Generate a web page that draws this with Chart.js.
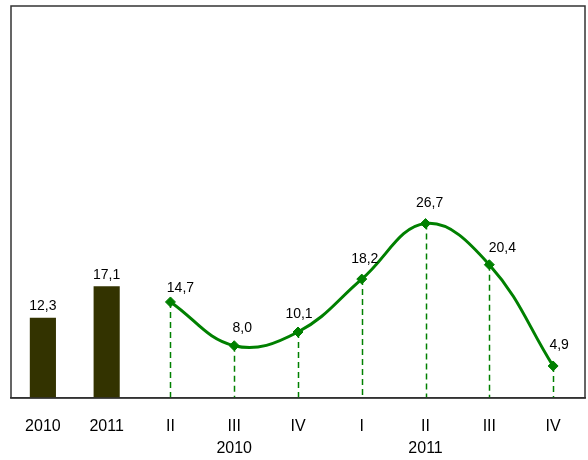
<!DOCTYPE html>
<html lang="pt-br">
<head>
<meta charset="UTF-8">
<title>Grafico</title>
<script src="https://cdn.jsdelivr.net/npm/chart.js"></script>
<style>
  html, body { margin: 0; padding: 0; background: #fff; overflow: hidden; }
  #box { width: 588px; height: 460px; }
</style>
</head>
<body>
<div id="box"><canvas id="myChart"></canvas></div>
<script>
// categorias do eixo x (segunda linha = ano dos trimestres)
const categorias = ['2010', '2011', 'II', ['III', '2010'], 'IV', 'I', ['II', '2011'], 'III', 'IV'];

// valores anuais (barras) e trimestrais (linha)
const valoresAnuais = [12.3, 17.1, null, null, null, null, null, null, null];
const valoresTrimestrais = [null, null, 14.7, 8.0, 10.1, 18.2, 26.7, 20.4, 4.9];

// deslocamento dos rótulos da linha (px), só estilo
const desvioX = [0, 0, 10, 8, 1, 3, 4, 13, 6];
const desvioY = [0, 0, -14, -18, -18, -20, -20, -17, -21];

const verde = '#008000';

function fmt(v) {
    return v.toFixed(1).replace('.', ',');
}

// moldura em volta da área do gráfico
const moldura = {
    id: 'moldura',
    afterDraw(chart) {
        const a = chart.chartArea;
        const ctx = chart.ctx;
        ctx.save();
        ctx.strokeStyle = '#333333';
        ctx.lineWidth = 1.5;
        ctx.strokeRect(a.left, a.top, a.right - a.left, a.bottom - a.top);
        ctx.restore();
    }
};

// linhas tracejadas dos pontos até a base
const linhasGuia = {
    id: 'linhasGuia',
    beforeDatasetsDraw(chart) {
        const ctx = chart.ctx;
        const base = chart.scales.y.getPixelForValue(0);
        const meta = chart.getDatasetMeta(1);
        ctx.save();
        ctx.strokeStyle = verde;
        ctx.lineWidth = 1.5;
        ctx.setLineDash([6, 4]);
        meta.data.forEach(function (p, i) {
            if (valoresTrimestrais[i] == null) return;
            ctx.beginPath();
            ctx.moveTo(Math.round(p.x) + 0.5, p.y);
            ctx.lineTo(Math.round(p.x) + 0.5, base);
            ctx.stroke();
        });
        ctx.restore();
    }
};

// rótulos com os valores
const rotulos = {
    id: 'rotulos',
    afterDatasetsDraw(chart) {
        const ctx = chart.ctx;
        ctx.save();
        ctx.fillStyle = '#000';
        ctx.font = '14px "Liberation Sans", Arial, sans-serif';
        ctx.textAlign = 'center';
        ctx.textBaseline = 'middle';
        chart.getDatasetMeta(0).data.forEach(function (b, i) {
            if (valoresAnuais[i] == null) return;
            ctx.fillText(fmt(valoresAnuais[i]), b.x, b.y - 11);
        });
        chart.getDatasetMeta(1).data.forEach(function (p, i) {
            if (valoresTrimestrais[i] == null) return;
            ctx.fillText(fmt(valoresTrimestrais[i]), p.x + desvioX[i], p.y + desvioY[i]);
        });
        ctx.restore();
    }
};

const config = {
    type: 'bar',
    data: {
        labels: categorias,
        datasets: [{
            type: 'bar',
            label: 'Anual',
            data: valoresAnuais,
            backgroundColor: '#333300',
            categoryPercentage: 1,
            barPercentage: 0.41,
            order: 2
        }, {
            type: 'line',
            label: 'Trimestral',
            data: valoresTrimestrais,
            borderColor: verde,
            borderWidth: 3,
            backgroundColor: verde,
            pointStyle: 'rectRot',
            pointRadius: 5,
            pointBackgroundColor: verde,
            pointBorderColor: verde,
            pointBorderWidth: 1,
            tension: 0.4,
            fill: false,
            clip: false,
            order: 1
        }]
    },
    options: {
        responsive: false,
        animation: false,
        devicePixelRatio: 1,
        layout: { autoPadding: false, padding: { left: 11, top: 6, right: 3, bottom: 0 } },
        plugins: {
            legend: { display: false },
            tooltip: { enabled: false }
        },
        scales: {
            x: {
                grid: { display: false, drawTicks: false },
                border: { display: true, color: '#333333', width: 1.5 },
                ticks: {
                    color: '#000',
                    padding: 17,
                    maxRotation: 0,
                    autoSkip: false,
                    font: { family: '"Liberation Sans", Arial, sans-serif', size: 16, lineHeight: 1.4 }
                },
                // altura fixa do eixo para a base ficar em y=398
                afterFit: function (scale) {
                    scale.height = 62;
                    scale.paddingLeft = 0;
                    scale.paddingRight = 0;
                }
            },
            y: {
                display: false,
                min: 0,
                max: 60
            }
        }
    },
    plugins: [linhasGuia, rotulos, moldura]
};

const canvas = document.getElementById('myChart');
canvas.width = 588;
canvas.height = 460;
new Chart(canvas, config);
</script>
</body>
</html>
